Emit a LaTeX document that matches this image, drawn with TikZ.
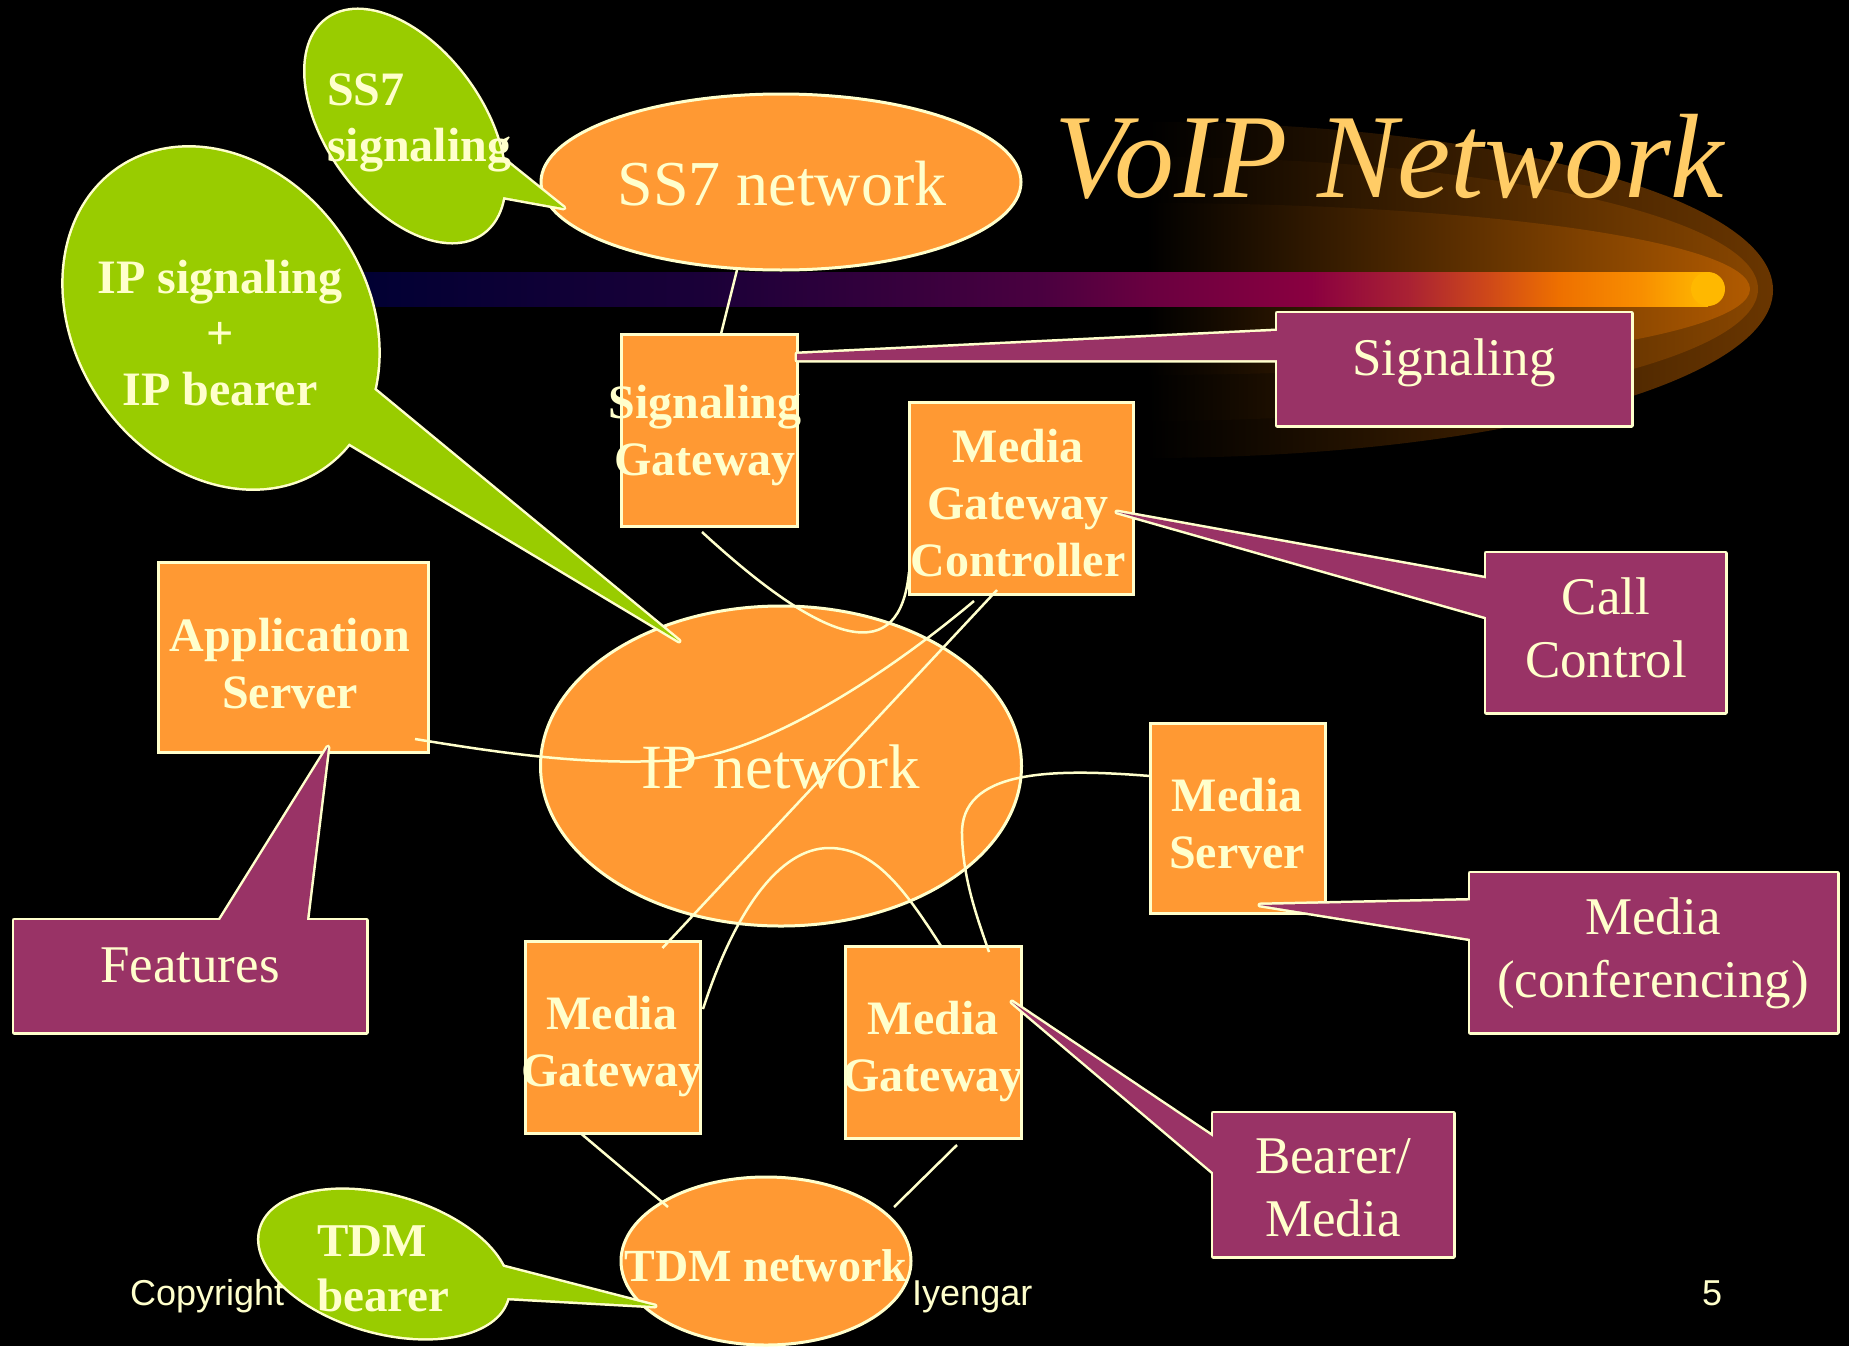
\documentclass[tikz,border=0pt]{standalone}
\usepackage{fontspec}
\setmainfont{Liberation Serif}
\newfontfamily\footerfont{Liberation Sans}
\usetikzlibrary{shapes.geometric,calc}

\definecolor{cream}{HTML}{FFFFCC}
\definecolor{netorange}{HTML}{FF9933}
\definecolor{bubblegreen}{HTML}{99CC00}
\definecolor{calloutred}{HTML}{993366}
\definecolor{titlegold}{HTML}{FFCC66}
\definecolor{glowouter}{HTML}{6A3600}
\definecolor{glowmid}{HTML}{8C4800}
\definecolor{glowinner}{HTML}{B85E00}
\definecolor{barA}{HTML}{000033}
\definecolor{barB}{HTML}{1A0038}
\definecolor{barC}{HTML}{4A0040}
\definecolor{barD}{HTML}{6A0040}
\definecolor{barE}{HTML}{8A0040}
\definecolor{barF}{HTML}{AA2233}
\definecolor{barG}{HTML}{D04A18}
\definecolor{barH}{HTML}{EE7000}
\definecolor{barI}{HTML}{F88E00}
\definecolor{barJ}{HTML}{FFB800}

% colour run of the title bar, from navy on the left to gold on the right
\pgfdeclarehorizontalshading{barshade}{100bp}{%
  color(0bp)=(barA); color(26.9bp)=(barA); color(39.2bp)=(barB);
  color(51.3bp)=(barC); color(55.2bp)=(barD); color(60.9bp)=(barE);
  color(64.4bp)=(barF); color(67.3bp)=(barG); color(69.7bp)=(barH);
  color(72.6bp)=(barI); color(75bp)=(barJ); color(100bp)=(barJ)}

% a boxed callout with a pointer: outline first, then the fills
\newcommand\drawcallout[2]{%
  \path[draw=cream,line width=5,line join=round] #1;
  \path[draw=cream,line width=5,line join=round] #2;
  \fill[calloutred] #1;
  \fill[calloutred] #2;}
% a speech bubble: ellipse plus pointer, outlined as one shape
\newcommand\drawbubble[2]{%
  \path[draw=cream,line width=5,line join=round] #1;
  \path[draw=cream,line width=5,line join=round] #2;
  \fill[bubblegreen] #1;
  \fill[bubblegreen] #2;}

\begin{document}
\begin{tikzpicture}[x=1pt,y=-1pt,
  netbox/.style={draw=cream,line width=3,fill=netorange,inner sep=0,outer sep=0},
  netcloud/.style={ellipse,draw=cream,line width=3,fill=netorange,inner sep=0,outer sep=0},
  boxtext/.style={text=cream,font=\bfseries\fontsize{48}{57}\selectfont,align=center,inner sep=0,anchor=north},
  cloudtext/.style={text=cream,inner sep=0,anchor=base},
  link/.style={draw=cream,line width=2.5},
  callouttext/.style={text=cream,font=\fontsize{53}{63}\selectfont,align=center,inner sep=0},
  bubbletext/.style={text=cream,font=\bfseries\fontsize{48}{56}\selectfont,inner sep=0},
  footer/.style={text=cream,font=\footerfont\fontsize{36}{40}\selectfont,inner sep=0}]

\useasboundingbox (0,0) rectangle (1849,1346);
\fill[black] (0,0) rectangle (1849,1346);

% glow behind the title
\begin{scope}
  \clip (1147,290) ellipse [x radius=626, y radius=168];
  \shade[left color=black, right color=glowouter] (1147,100) rectangle (1775,470);
\end{scope}
\begin{scope}
  \clip (1147,289) ellipse [x radius=611, y radius=132];
  \shade[left color=black, right color=glowmid] (1147,100) rectangle (1775,470);
\end{scope}
\begin{scope}
  \clip (1147,289) ellipse [x radius=603, y radius=86];
  \shade[left color=black, right color=glowinner] (1147,100) rectangle (1775,470);
\end{scope}

% title bar
\shade[shading=barshade] (300,272) rectangle (1708,306);
\fill[barJ] (1708,289) circle [radius=17];

\node (title) [text=titlegold, font=\itshape\fontsize{120}{124}\selectfont, inner sep=0, anchor=base]
  at (1389,197) {VoIP Network};

% footer
\node (copyleft) [footer, anchor=base west] at (130,1305) {Copyright};
\node (copyname) [footer, anchor=base west] at (912,1305) {Iyengar};
\node (pagenum) [footer, anchor=base] at (1712,1305) {5};

% networks
\node (ss7net) [netcloud, minimum width=480, minimum height=176] at (781,182) {};
\node (ipnet)  [netcloud, minimum width=481, minimum height=320] at (781,766) {};
\node (tdmnet) [netcloud, minimum width=290, minimum height=168] at (766,1261) {};
\node (ss7text) [cloudtext, font=\fontsize{64}{70}\selectfont] at (782,205) {SS7 network};
\node (iptext)  [cloudtext, font=\fontsize{63}{70}\selectfont] at (781,788) {IP network};
\node (tdmtext) [cloudtext, font=\bfseries\fontsize{46}{52}\selectfont] at (766,1281) {TDM network};

% network elements
\node (sg)  [netbox, minimum width=176, minimum height=192] at (709,430) {};
\node (mgc) [netbox, minimum width=224, minimum height=192] at (1021,498) {};
\node (as)  [netbox, minimum width=270, minimum height=190] at (293,657) {};
\node (ms)  [netbox, minimum width=175, minimum height=190] at (1237.5,818) {};
\node (mgl) [netbox, minimum width=175, minimum height=192] at (612.5,1037) {};
\node (mgr) [netbox, minimum width=176, minimum height=192] at (933,1042) {};

\node (sgtext)  [boxtext] at (705,385)  {Signaling\\Gateway};
\node (mgctext) [boxtext] at (1018,429) {Media\\Gateway\\Controller};
\node (astext)  [boxtext] at (290,618)  {Application\\Server};
\node (mstext)  [boxtext] at (1237,778) {Media\\Server};
\node (mgltext) [boxtext] at (612,996)  {Media\\Gateway};
\node (mgrtext) [boxtext] at (933,1001) {Media\\Gateway};

% links
\draw[link] ($(ss7net.south)+(-44,0)$) -- ($(sg.north)+(12,0)$);
\draw[link] ($(sg.south)+(-7,6)$) .. controls (830,650) and (900,665) .. ($(mgc.west)+(0,74)$);
\draw[link] ($(as.east)+(-13,82)$) .. controls (530,758) and (600,765) .. (679,760)
  .. controls (760,755) and (880,680) .. ($(mgc.south)+(-47,7)$);
\draw[link] ($(mgc.south)+(-24,-4)$) -- ($(mgl.north)+(50,7)$);
\draw[link] ($(mgl.east)+(3,-28)$) .. controls (735,910) and (780,848) .. (829,848)
  .. controls (875,848) and (905,890) .. ($(mgr.north)+(8,0)$);
\draw[link] ($(ms.west)+(0,-42)$) .. controls (1050,768) and (960,770) .. (962,835)
  .. controls (963,880) and (978,920) .. ($(mgr.north)+(56,6)$);
\draw[link] ($(mgl.south)+(-31,1)$) -- ($(tdmnet.center)+(-98,-54)$);
\draw[link] ($(mgr.south)+(24,7)$) -- ($(tdmnet.center)+(128,-54)$);

% role callouts
\drawcallout{(1277,313) rectangle (1631,425)}{(1297,330) -- (797,354) -- (797,360) -- (1297,360) -- cycle}
\drawcallout{(1486,553) rectangle (1725,712)}{(1500,581) -- (1117,512) -- (1500,621) -- cycle}
\drawcallout{(14,920) rectangle (366,1032)}{(212,933) -- (328,747) -- (305,935) -- cycle}
\drawcallout{(1470,873) rectangle (1837,1032)}{(1490,900) -- (1260,905) -- (1490,942) -- cycle}
\drawcallout{(1213,1113) rectangle (1453,1256)}{(1228,1147) -- (1012,1002) -- (1227,1184) -- cycle}

\node (sigcall)  [callouttext, anchor=base]  at (1454,375) {Signaling};
\node (ccall)    [callouttext, anchor=north] at (1606,578) {Call\\Control};
\node (featcall) [callouttext, anchor=base]  at (190,982)  {Features};
\node (medcall)  [callouttext, anchor=north] at (1653,898) {Media\\(conferencing)};
\node (bearcall) [callouttext, anchor=north] at (1333,1138) {Bearer/\\Media};

% speech bubbles
\drawbubble{(405,126) ellipse [x radius=132, y radius=77, rotate=-54]}{(493,151) -- (564,208) -- (487,194) -- cycle}
\drawbubble{(221,318) ellipse [x radius=181, y radius=145, rotate=-55.7]}{(360,378) -- (679,641) -- (332,433) -- cycle}
\drawbubble{(384,1264) ellipse [x radius=128, y radius=68, rotate=-15.8]}{(496,1265) -- (655,1306) -- (492,1297) -- cycle}

\node (ss7bub) [bubbletext, align=left, anchor=north west] at (327,74) {SS7\\signaling};
\node (ipbub)  [bubbletext, align=center, anchor=north] at (220,260) {IP signaling\\+\\IP bearer};
\node (tdmbub) [bubbletext, font=\bfseries\fontsize{47}{55}\selectfont, align=left, anchor=north west]
  at (317,1226) {TDM\\bearer};
\end{tikzpicture}
\end{document}
